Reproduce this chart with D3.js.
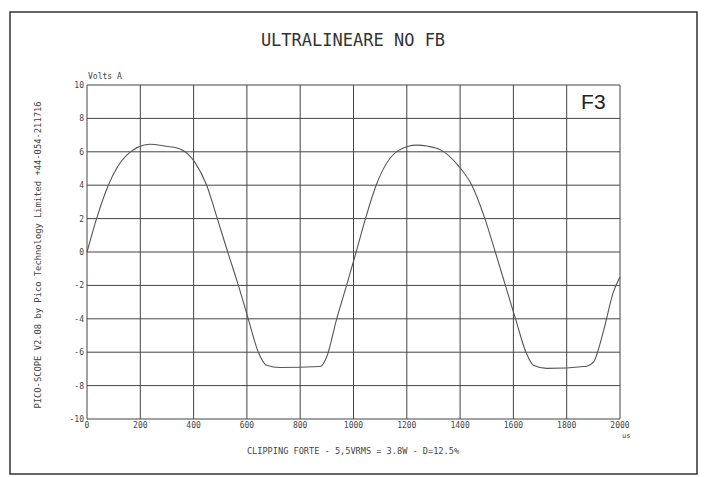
<!DOCTYPE html>
<html>
<head>
<meta charset="utf-8">
<script src="https://cdn.jsdelivr.net/npm/d3@7"></script>
<style>
  body { margin: 0; background: #fff; }
  text { font-family: "DejaVu Sans Mono", monospace; fill: #444; }
</style>
</head>
<body>
<div id="chart"></div>
<script>
// waveform (time in us, volts)
var times = [0, 36, 80, 149, 236, 290, 349, 405, 449, 487, 528, 568, 605, 643, 674, 724, 874, 899, 937, 974,
             1010, 1045, 1085, 1168, 1237, 1280, 1325, 1393, 1444, 1493, 1532, 1570, 1608, 1647, 1675, 1725, 1875, 1900, 1937, 1975, 2000];
var volts = [0, 2, 4, 5.8, 6.45, 6.35, 6.17, 5.37, 4.0, 2.1, 0, -2, -4, -6, -6.78, -6.92, -6.86, -6.3, -4, -2,
             0, 2, 4, 6.07, 6.4, 6.33, 6.13, 5.17, 4, 2, 0, -2, -4, -6, -6.78, -6.97, -6.84, -6.6, -4.8, -2.4, -1.5];
var xTicks = [0, 200, 400, 600, 800, 1000, 1200, 1400, 1600, 1800, 2000];
var yTicks = [10, 8, 6, 4, 2, 0, -2, -4, -6, -8, -10];

var title = "ULTRALINEARE NO FB";
var caption = "CLIPPING FORTE - 5,5VRMS = 3.8W - D=12.5%";
var sideNote = "PICO-SCOPE V2.08 by Pico Technology Limited +44-054-211716";

var W = 709, H = 477;
var margin = { top: 85, right: 89, bottom: 58, left: 87 },
    width = W - margin.left - margin.right,
    height = H - margin.top - margin.bottom;

var svg = d3.select("#chart")
    .append("svg")
    .attr("width", W)
    .attr("height", H);

// outer frame
svg.append("rect")
    .attr("x", 10).attr("y", 12)
    .attr("width", 687).attr("height", 462)
    .attr("fill", "none")
    .attr("stroke", "#333")
    .attr("stroke-width", 1.5);

var g = svg.append("g")
    .attr("transform", "translate(" + margin.left + "," + margin.top + ")");

var x = d3.scaleLinear().domain([0, 2000]).range([0, width]);
var y = d3.scaleLinear().domain([-10, 10]).range([height, 0]);

// grid
g.selectAll(".vgrid")
    .data(xTicks)
    .enter().append("line")
    .attr("x1", function (d) { return x(d); })
    .attr("x2", function (d) { return x(d); })
    .attr("y1", 0).attr("y2", height)
    .attr("stroke", "#444").attr("stroke-width", 1);

g.selectAll(".hgrid")
    .data(yTicks)
    .enter().append("line")
    .attr("x1", 0).attr("x2", width)
    .attr("y1", function (d) { return y(d); })
    .attr("y2", function (d) { return y(d); })
    .attr("stroke", "#444").attr("stroke-width", 1);

// tick labels
g.selectAll(".ylab")
    .data(yTicks)
    .enter().append("text")
    .attr("x", -3)
    .attr("y", function (d) { return y(d) + 3; })
    .attr("text-anchor", "end")
    .attr("font-size", 8)
    .text(function (d) { return d; });

g.selectAll(".xlab")
    .data(xTicks)
    .enter().append("text")
    .attr("x", function (d) { return x(d); })
    .attr("y", height + 9)
    .attr("text-anchor", "middle")
    .attr("font-size", 8)
    .text(function (d) { return d; });

g.append("text").attr("x", width + 2).attr("y", height + 19)
    .attr("font-size", 7).text("us");
g.append("text").attr("x", 1).attr("y", -6)
    .attr("font-size", 8).text("Volts A");

// trace
var pts = times.map(function (t, i) { return [t, volts[i]]; });
g.append("path")
    .datum(pts)
    .attr("fill", "none")
    .attr("stroke", "#555")
    .attr("stroke-width", 1.1)
    .attr("d", d3.line()
        .curve(d3.curveMonotoneX)
        .x(function (d) { return x(d[0]); })
        .y(function (d) { return y(d[1]); }));

// F3 label in top-right cell
g.append("text")
    .attr("x", x(1900))
    .attr("y", y(9) + 7)
    .attr("text-anchor", "middle")
    .style("font-family", "'Liberation Sans', Arial, sans-serif")
    .attr("font-size", 21)
    .style("fill", "#222")
    .text("F3");

// titles
svg.append("text")
    .attr("x", 353).attr("y", 46)
    .attr("text-anchor", "middle")
    .attr("font-size", 17)
    .style("fill", "#333")
    .text(title);

svg.append("text")
    .attr("x", 353).attr("y", 454)
    .attr("text-anchor", "middle")
    .attr("font-size", 8.6)
    .text(caption);

svg.append("text")
    .attr("transform", "translate(41,255) rotate(-90)")
    .attr("text-anchor", "middle")
    .attr("font-size", 8.8)
    .text(sideNote);
</script>
</body>
</html>
